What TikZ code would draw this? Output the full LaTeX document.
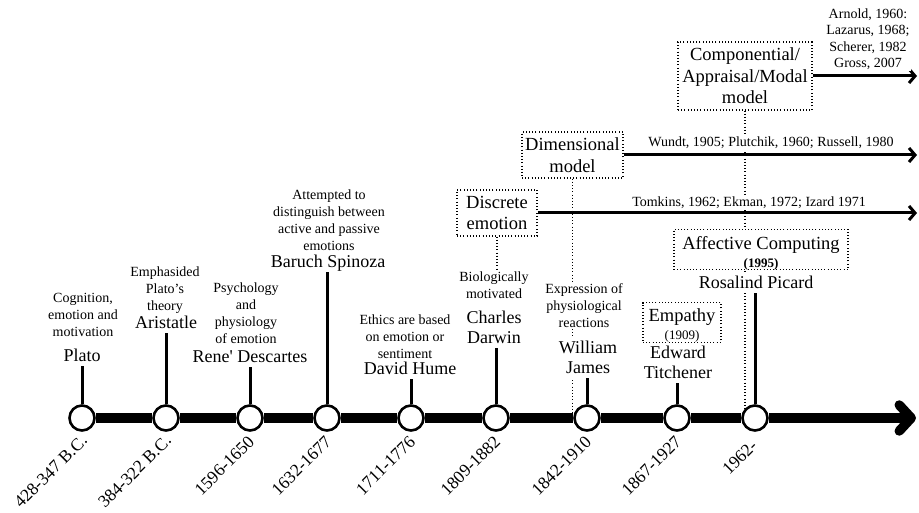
\documentclass[tikz,border=0pt]{standalone}
\usepackage{fontspec}
\setmainfont{Liberation Serif}
\usetikzlibrary{arrows.meta}
\pgfdeclarelayer{bg}
\pgfsetlayers{bg,main}

\begin{document}
\begin{tikzpicture}[x=1pt,y=-1pt,
  era/.style={circle,draw,line width=2.6pt,fill=white,minimum size=25pt,inner sep=0pt},
  axis/.style={line width=9.5pt},
  stem/.style={line width=3pt},
  who/.style={font=\fontsize{18}{20.5}\selectfont,align=center,fill=white,inner xsep=1pt,inner ysep=4pt,anchor=south},
  note/.style={font=\fontsize{14}{17}\selectfont,align=center,fill=white,inner sep=1pt},
  when/.style={font=\fontsize{17.5}{17.5}\selectfont,rotate=45,anchor=east,inner sep=1pt},
  theory/.style={draw,dash pattern=on 1pt off 2.2pt,line width=1.1pt,fill=white,align=center,
                 font=\fontsize{18.5}{21.5}\selectfont,inner sep=0pt},
  ref/.style={font=\fontsize{14}{16.5}\selectfont,align=center,fill=white,inner sep=1pt},
  trend/.style={line width=3pt,-{Straight Barb[length=6pt,width=14pt]}},
  drop/.style={dash pattern=on 1pt off 2.2pt,line width=1.1pt},
]
\path[use as bounding box] (0,0) rectangle (919,513);

% timeline stations
\node[era] (c1) at (82,418) {};
\node[era] (c2) at (166,418) {};
\node[era] (c3) at (250,418) {};
\node[era] (c4) at (327,418) {};
\node[era] (c5) at (411,418) {};
\node[era] (c6) at (496,418) {};
\node[era] (c7) at (587,418) {};
\node[era] (c8) at (677,418) {};
\node[era] (c9) at (755,418) {};
\coordinate (tip) at (916,418);
\coordinate (rim) at (917,0);

% main axis
\foreach \a/\b in {c1/c2,c2/c3,c3/c4,c4/c5,c5/c6,c6/c7,c7/c8,c8/c9}
  \draw[axis] (\a) -- (\b);
\draw[axis,-{Straight Barb[length=12pt,width=26pt,round]}] (c9) -- (tip);

% dates
\node[when] (t1) at (85,437) {428-347 B.C.};
\node[when] (t2) at (169,437) {384-322 B.C.};
\node[when] (t3) at (252,438) {1596-1650};
\node[when] (t4) at (329,438) {1632-1677};
\node[when] (t5) at (413,438) {1711-1776};
\node[when] (t6) at (498,438) {1809-1882};
\node[when] (t7) at (589,438) {1842-1910};
\node[when] (t8) at (679,438) {1867-1927};
\node[when] (t9) at (755,442) {1962-};

% people
\node[who] (n1) at (82,366) {Plato};
\node[who] (n2) at (166,333) {Aristatle};
\node[who] (n3) at (250,367) {Rene\textquotesingle{} Descartes};
\node[who,text depth=0pt] (n4) at (328,272) {Baruch Spinoza};
\node[who] (n5) at (410,379) {David Hume};
\node[who] (n6) at (494,348) {Charles\\Darwin};
\node[who] (n7) at (588,378) {William\\James};
\node[who] (n8) at (678,383) {Edward\\Titchener};
\node[who] (n9) at (756,293) {Rosalind Picard};

% stems
\foreach \i in {1,...,9}
  \draw[stem] (c\i) -- (c\i |- n\i.south);

% contributions
\node[note] (d1) at (83,315) {Cognition,\\emotion and\\motivation};
\node[note] (d2) at (165,290) {Emphasided\\Plato’s\\theory};
\node[note] (d3) at (246,313) {Psychology\\and\\physiology\\of emotion};
\node[note] (d4) at (329,220) {Attempted to\\distinguish between\\active and passive\\emotions};
\node[note] (d5) at (405,337) {Ethics are based\\on emotion or\\sentiment};
\node[note] (d6) at (494,285) {Biologically\\motivated};
\node[note] (d7) at (584,306) {Expression of\\physiological\\reactions};

% theories
\node[theory,minimum width=134pt,minimum height=68pt] (comp) at (745,76) {Componential/\\Appraisal/Modal\\model};
\node[theory,minimum width=101pt,minimum height=46pt] (dim) at (572.5,155) {Dimensional\\model};
\node[theory,minimum width=80pt,minimum height=46pt] (disc) at (497,213) {Discrete\\emotion};
\node[theory,minimum width=174pt,minimum height=39pt] (aff) at (761,249.5)
  {\rule{0pt}{20pt}Affective Computing\\[-3.5pt]{\fontsize{13}{13}\selectfont\bfseries (1995)}};
\node[theory,minimum width=78pt,minimum height=39pt] (emp) at (682,322.5)
  {\rule{0pt}{19pt}Empathy\\[-3.5pt]{\fontsize{13}{13}\selectfont (1909)}};

% theory trends
\draw[trend] (comp.east) -- (comp.east -| rim);
\draw[trend] (dim.east) -- (dim.east -| rim);
\draw[trend] (disc.east) -- (disc.east -| rim);

\node[ref] (r1) at (868,39) {Arnold, 1960:\\Lazarus, 1968;\\Scherer, 1982\\Gross, 2007};
\node[ref] (r2) at (771,143) {Wundt, 1905; Plutchik, 1960; Russell, 1980};
\node[ref] (r3) at (749,203) {Tomkins, 1962; Ekman, 1972; Izard 1971};

% dotted links from theories down to the axis
\begin{pgfonlayer}{bg}
\draw[drop] (disc.south) -- (disc.south |- d6.north);
\draw[drop] (dim.south) -- (dim.south |- c7.center);
\draw[drop] (comp.south) -- (comp.south |- c9.center);
\end{pgfonlayer}
\end{tikzpicture}
\end{document}
